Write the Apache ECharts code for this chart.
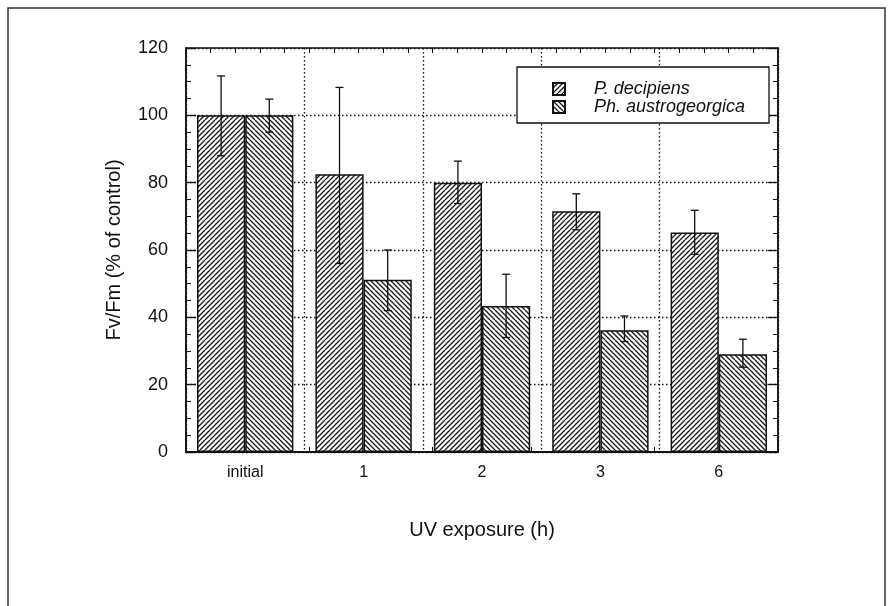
<!DOCTYPE html>
<html>
<head>
<meta charset="utf-8">
<script src="https://cdn.jsdelivr.net/npm/echarts@6/dist/echarts.min.js"></script>
<style>
  html, body { margin: 0; padding: 0; background: #fff; }
  #chart { width: 892px; height: 606px; }
</style>
</head>
<body>
<div id="chart"></div>
<script>
// Exposure time categories
const categories = ['initial', '1', '2', '3', '6'];
const seriesNames = ['P. decipiens', 'Ph. austrogeorgica'];

// Fv/Fm, % of control
const decipiensMean = [100, 82.5, 80, 71.5, 65.2];
const austroMean = [100, 51.2, 43.4, 36.2, 29];

// error bar limits [low, high]
const decipiensErr = [[88, 111.7], [56, 108.3], [73.8, 86.4], [66, 76.7], [58.7, 71.8]];
const austroErr = [[95, 104.8], [42, 60], [34, 52.8], [32.8, 40.4], [25.2, 33.5]];

const yTicks = [0, 20, 40, 60, 80, 100, 120];

const FONT = '"Liberation Sans", Arial, Helvetica, sans-serif';
const INK = '#111';
const CAT_GAP = 0.186;

// diagonal hatch tile: '/' or '\'
function hatch(dir) {
  const s = 10;
  const c = document.createElement('canvas');
  c.width = s; c.height = s;
  const ctx = c.getContext('2d');
  ctx.fillStyle = '#fff';
  ctx.fillRect(0, 0, s, s);
  ctx.strokeStyle = '#1a1a1a';
  ctx.lineWidth = 1.35;
  ctx.beginPath();
  for (let o = -10; o <= 20; o += 5) {
    if (dir === '/') { ctx.moveTo(o, s); ctx.lineTo(o + s, 0); }
    else { ctx.moveTo(o, 0); ctx.lineTo(o + s, s); }
  }
  ctx.stroke();
  return { image: c, repeat: 'repeat' };
}

function errorSeries(err, side) {
  return {
    type: 'custom',
    xAxisIndex: 0,
    yAxisIndex: 0,
    z: 5,
    silent: true,
    data: err.map((e, i) => [i, e[0], e[1]]),
    renderItem: function (params, api) {
      const idx = api.value(0);
      const band = api.size([1, 0])[0];
      const barW = band * (1 - CAT_GAP) / 2;
      const base = api.coord([idx, 0]);
      const x = base[0] + side * barW / 2;
      const yLo = api.coord([idx, api.value(1)])[1];
      const yHi = api.coord([idx, api.value(2)])[1];
      const cap = 4;
      const st = { stroke: INK, lineWidth: 1.3 };
      return {
        type: 'group',
        children: [
          { type: 'line', shape: { x1: x, y1: yLo, x2: x, y2: yHi }, style: st },
          { type: 'line', shape: { x1: x - cap, y1: yHi, x2: x + cap, y2: yHi }, style: st },
          { type: 'line', shape: { x1: x - cap, y1: yLo, x2: x + cap, y2: yLo }, style: st }
        ]
      };
    }
  };
}

const chart = echarts.init(document.getElementById('chart'), null, { renderer: 'canvas' });

const dotted = { color: '#111', width: 1.3, type: [1.5, 2.5] };

// secondary axes carrying only inward tick marks along the frame
const xTickAxis = (pos) => ({
  type: 'value', position: pos, min: 0, max: 24, interval: 1,
  axisLine: { show: false, onZero: false },
  axisTick: { show: true, inside: true, length: 5, lineStyle: { color: INK, width: 1 } },
  axisLabel: { show: false }, splitLine: { show: false }
});

chart.setOption({
  backgroundColor: '#fff',
  animation: false,
  textStyle: { fontFamily: FONT, color: INK },
  grid: { left: 186, right: 114, top: 48, bottom: 154, containLabel: false,
    show: true, borderColor: INK, borderWidth: 1.5, backgroundColor: 'transparent' },
  legend: {
    orient: 'vertical',
    left: 552, top: 80, padding: 0,
    itemWidth: 12, itemHeight: 12, itemGap: 0,
    icon: 'rect',
    data: seriesNames,
    textStyle: { fontFamily: FONT, fontSize: 18, fontStyle: 'italic', color: INK, lineHeight: 16, padding: [0, 0, 0, 24] }
  },
  graphic: [
    { type: 'rect', shape: { x: 8, y: 8, width: 877, height: 640 }, style: { fill: 'none', stroke: '#333', lineWidth: 1.5 }, z: 100 },
    { type: 'rect', shape: { x: 517, y: 67, width: 252, height: 56 }, style: { fill: '#fff', stroke: INK, lineWidth: 1.3 }, z: 4 }
  ],
  xAxis: [
    {
      type: 'category', data: categories, position: 'bottom',
      name: 'UV exposure (h)', nameLocation: 'middle', nameGap: 68,
      nameTextStyle: { fontFamily: FONT, fontSize: 20, color: INK },
      axisLine: { show: true, onZero: false, lineStyle: { color: INK, width: 2 } },
      axisTick: { show: false },
      axisLabel: { fontFamily: FONT, fontSize: 16, color: INK, margin: 13 },
      splitLine: { show: true, lineStyle: dotted }
    },
    xTickAxis('top'),
    xTickAxis('bottom')
  ],
  yAxis: [
    {
      type: 'value', min: 0, max: 120, interval: 20, position: 'left',
      name: 'Fv/Fm (% of control)', nameLocation: 'middle', nameGap: 62,
      nameTextStyle: { fontFamily: FONT, fontSize: 20, color: INK },
      axisLine: { show: true, onZero: false, lineStyle: { color: INK, width: 1.5 } },
      axisTick: { show: true, inside: true, length: 10, lineStyle: { color: INK, width: 1.3 } },
      minorTick: { show: true, splitNumber: 4, length: 5, lineStyle: { color: INK, width: 1 } },
      axisLabel: { fontFamily: FONT, fontSize: 18, color: INK, margin: 18,
        formatter: (v) => yTicks.includes(v) ? String(v) : '' },
      splitLine: { show: true, lineStyle: dotted }
    },
    {
      type: 'value', min: 0, max: 120, interval: 20, position: 'right',
      axisLine: { show: true, onZero: false, lineStyle: { color: INK, width: 1.5 } },
      axisTick: { show: true, inside: true, length: 10, lineStyle: { color: INK, width: 1.3 } },
      minorTick: { show: true, splitNumber: 4, length: 5, lineStyle: { color: INK, width: 1 } },
      axisLabel: { show: false },
      splitLine: { show: false }
    }
  ],
  series: [
    {
      name: seriesNames[0], type: 'bar', data: decipiensMean,
      barGap: '0%', barCategoryGap: (CAT_GAP * 100) + '%',
      itemStyle: { color: hatch('/'), borderColor: INK, borderWidth: 1.5 },
      z: 3
    },
    {
      name: seriesNames[1], type: 'bar', data: austroMean,
      barGap: '0%', barCategoryGap: (CAT_GAP * 100) + '%',
      itemStyle: { color: hatch('\\'), borderColor: INK, borderWidth: 1.5 },
      z: 3
    },
    errorSeries(decipiensErr, -1),
    errorSeries(austroErr, 1)
  ]
});
</script>
</body>
</html>
